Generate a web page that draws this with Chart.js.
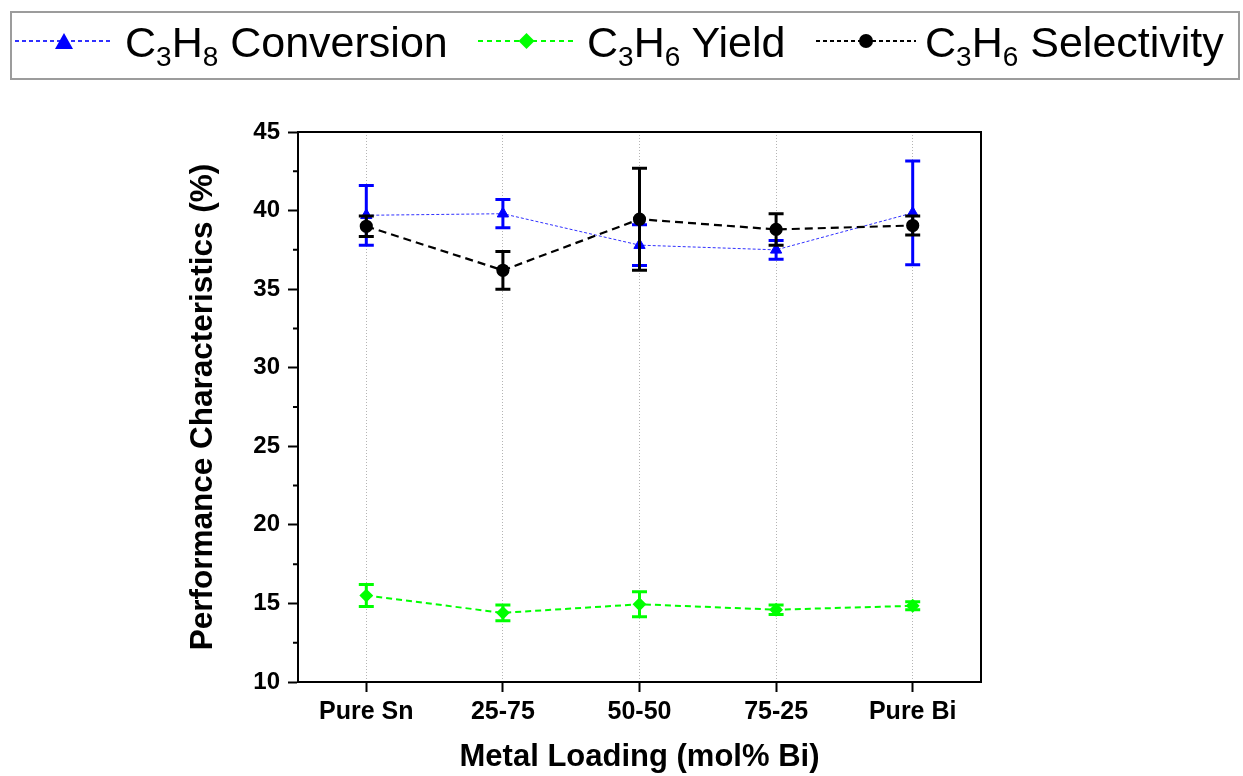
<!DOCTYPE html>
<html lang="en">
<head>
<meta charset="UTF-8">
<title>Performance Characteristics vs Metal Loading</title>
<script src="https://cdn.jsdelivr.net/npm/chart.js"></script>
<style>
  body { margin: 0; background: #fff; font-family: "Liberation Sans", Arial, sans-serif; }
  #wrap { position: relative; width: 1243px; height: 776px; }
  #legendBox {
    position: absolute; left: 10px; top: 11px; width: 1230px; height: 69px;
    box-sizing: border-box; border: 2px solid #9c9c9c;
  }
  .sample { position: absolute; top: 29px; height: 24px; }
  .lbl {
    position: absolute; top: 21px; font-size: 43px; line-height: 43px;
    color: #000; white-space: nowrap;
  }
  .lbl sub { font-size: 28px; line-height: 0; vertical-align: -9px; }
</style>
</head>
<body>
<div id="wrap">
  <canvas id="chart" width="1243" height="776"></canvas>
  <div id="legendBox"></div>
</div>

<script>
  const categories = ['Pure Sn', '25-75', '50-50', '75-25', 'Pure Bi'];
  const conversion = [39.7, 39.8, 37.8, 37.5, 39.85];
  const conversionErr = [1.9, 0.9, 1.3, 0.6, 3.3];
  const yieldValues = [15.5, 14.4, 14.95, 14.6, 14.85];
  const yieldErr = [0.7, 0.5, 0.8, 0.3, 0.25];
  const selectivity = [39.0, 36.2, 39.45, 38.8, 39.05];
  const selectivityErr = [0.65, 1.2, 3.25, 1.0, 0.6];
  const yLabels = [10, 15, 20, 25, 30, 35, 40, 45];

  const seriesNames = ['C₃H₈ Conversion', 'C₃H₆ Yield', 'C₃H₆ Selectivity'];
  const legendHtml = [
    'C<sub>3</sub>H<sub>8</sub> Conversion',
    'C<sub>3</sub>H<sub>6</sub> Yield',
    'C<sub>3</sub>H<sub>6</sub> Selectivity'
  ];

  Chart.defaults.font.family = '"Liberation Sans", Arial, sans-serif';
  Chart.defaults.color = '#000';

  // vertical error bars, drawn under each dataset's own markers
  const errorBars = {
    id: 'errorBars',
    beforeDatasetDraw(chart, args) {
      const ds = chart.data.datasets[args.index];
      if (!ds.errors) return;
      const y = chart.scales.y;
      const ctx = chart.ctx;
      ctx.save();
      ctx.strokeStyle = ds.errorColor;
      ctx.lineWidth = 3;
      args.meta.data.forEach((pt, i) => {
        const top = y.getPixelForValue(ds.data[i] + ds.errors[i]);
        const bot = y.getPixelForValue(ds.data[i] - ds.errors[i]);
        ctx.beginPath();
        ctx.moveTo(pt.x, top); ctx.lineTo(pt.x, bot);
        ctx.moveTo(pt.x - 7.5, top); ctx.lineTo(pt.x + 7.5, top);
        ctx.moveTo(pt.x - 7.5, bot); ctx.lineTo(pt.x + 7.5, bot);
        ctx.stroke();
      });
      ctx.restore();
    }
  };

  // top/right frame and short minor ticks on the y axis
  const frame = {
    id: 'frame',
    afterDraw(chart) {
      const {ctx, chartArea: a} = chart;
      const y = chart.scales.y;
      ctx.save();
      ctx.strokeStyle = '#000';
      ctx.lineWidth = 2;
      ctx.beginPath();
      ctx.moveTo(a.left, a.top); ctx.lineTo(a.right, a.top); ctx.lineTo(a.right, a.bottom);
      y.ticks.forEach(t => {
        if (yLabels.includes(t.value)) return;
        const py = y.getPixelForValue(t.value);
        ctx.moveTo(a.left - 5, py); ctx.lineTo(a.left, py);
      });
      ctx.stroke();
      ctx.restore();
    }
  };

  const chart = new Chart(document.getElementById('chart'), {
    type: 'line',
    data: {
      labels: categories,
      datasets: [
        {
          label: seriesNames[0],
          data: conversion,
          errors: conversionErr,
          errorColor: '#0000ff',
          borderColor: '#3030ff',
          borderWidth: 1,
          borderDash: [3, 2],
          pointStyle: 'triangle',
          pointRadius: 6.5,
          pointBackgroundColor: '#0000ff',
          pointBorderColor: '#0000ff',
          order: 3
        },
        {
          label: seriesNames[1],
          data: yieldValues,
          errors: yieldErr,
          errorColor: '#00ff00',
          borderColor: '#00ff00',
          borderWidth: 2,
          borderDash: [6, 4],
          pointStyle: 'rectRot',
          pointRadius: 5.5,
          pointBackgroundColor: '#00ff00',
          pointBorderColor: '#00ff00',
          order: 2
        },
        {
          label: seriesNames[2],
          data: selectivity,
          errors: selectivityErr,
          errorColor: '#000',
          borderColor: '#000',
          borderWidth: 2.2,
          borderDash: [8, 5],
          pointStyle: 'circle',
          pointRadius: 5.5,
          pointBackgroundColor: '#000',
          pointBorderColor: '#000',
          order: 1
        }
      ]
    },
    options: {
      responsive: false,
      animation: false,
      layout: { padding: { left: 180, right: 262, top: 132, bottom: 0 } },
      plugins: { legend: { display: false }, tooltip: { enabled: false } },
      scales: {
        x: {
          offset: true,
          afterFit: s => { s.height = 94; },
          grid: {
            offset: false,
            color: '#b4b4b4',
            lineWidth: 1,
            tickColor: '#000',
            tickWidth: 2,
            tickLength: 10
          },
          border: { color: '#000', width: 2, dash: [1, 2] },
          ticks: { font: { size: 25, weight: 'bold' }, padding: 5, maxRotation: 0 },
          title: {
            display: true,
            text: 'Metal Loading (mol% Bi)',
            font: { size: 31, weight: 'bold' },
            padding: { top: 0, bottom: 0 }
          }
        },
        y: {
          min: 10,
          max: 45,
          afterFit: s => { s.width = 118; },
          grid: {
            drawOnChartArea: false,
            tickLength: 10,
            tickWidth: 2,
            tickColor: c => yLabels.includes(c.tick.value) ? '#000' : 'rgba(0,0,0,0)'
          },
          border: { color: '#000', width: 2 },
          ticks: {
            stepSize: 2.5,
            padding: 8,
            font: { size: 24, weight: 'bold' },
            callback: v => yLabels.includes(v) ? v : ''
          },
          title: {
            display: true,
            text: 'Performance Characteristics (%)',
            font: { size: 31.5, weight: 'bold' },
            padding: { top: 4, bottom: 0 }
          }
        }
      }
    },
    plugins: [errorBars, frame]
  });

  // legend with subscripts, outside the plot like the original
  const legendLayout = [
    { lineFrom: 15, lineTo: 113, textAt: 125 },
    { lineFrom: 478, lineTo: 575, textAt: 587 },
    { lineFrom: 816, lineTo: 916, textAt: 925 }
  ];
  const sampleDash = ['4 3', '5 4', '4 3'];
  const wrap = document.getElementById('wrap');
  chart.data.datasets.forEach((ds, i) => {
    const L = legendLayout[i];
    const w = L.lineTo - L.lineFrom, c = w / 2, col = ds.pointBackgroundColor;
    let marker;
    if (ds.pointStyle === 'triangle') marker = `<polygon points="${c - 9},20 ${c + 9},20 ${c},4" fill="${col}"/>`;
    else if (ds.pointStyle === 'rectRot') marker = `<polygon points="${c},4 ${c + 8},12 ${c},20 ${c - 8},12" fill="${col}"/>`;
    else marker = `<circle cx="${c}" cy="12" r="7" fill="${col}"/>`;
    const holder = document.createElement('div');
    holder.innerHTML = `<svg class="sample" style="left:${L.lineFrom}px" width="${w}" height="24">
      <line x1="0" y1="12" x2="${w}" y2="12" stroke="${ds.borderColor}" stroke-width="2" stroke-dasharray="${sampleDash[i]}"/>
      ${marker}</svg>`;
    wrap.appendChild(holder.firstElementChild);
    const span = document.createElement('span');
    span.className = 'lbl';
    span.style.left = L.textAt + 'px';
    span.innerHTML = legendHtml[i];
    wrap.appendChild(span);
  });
</script>
</body>
</html>
